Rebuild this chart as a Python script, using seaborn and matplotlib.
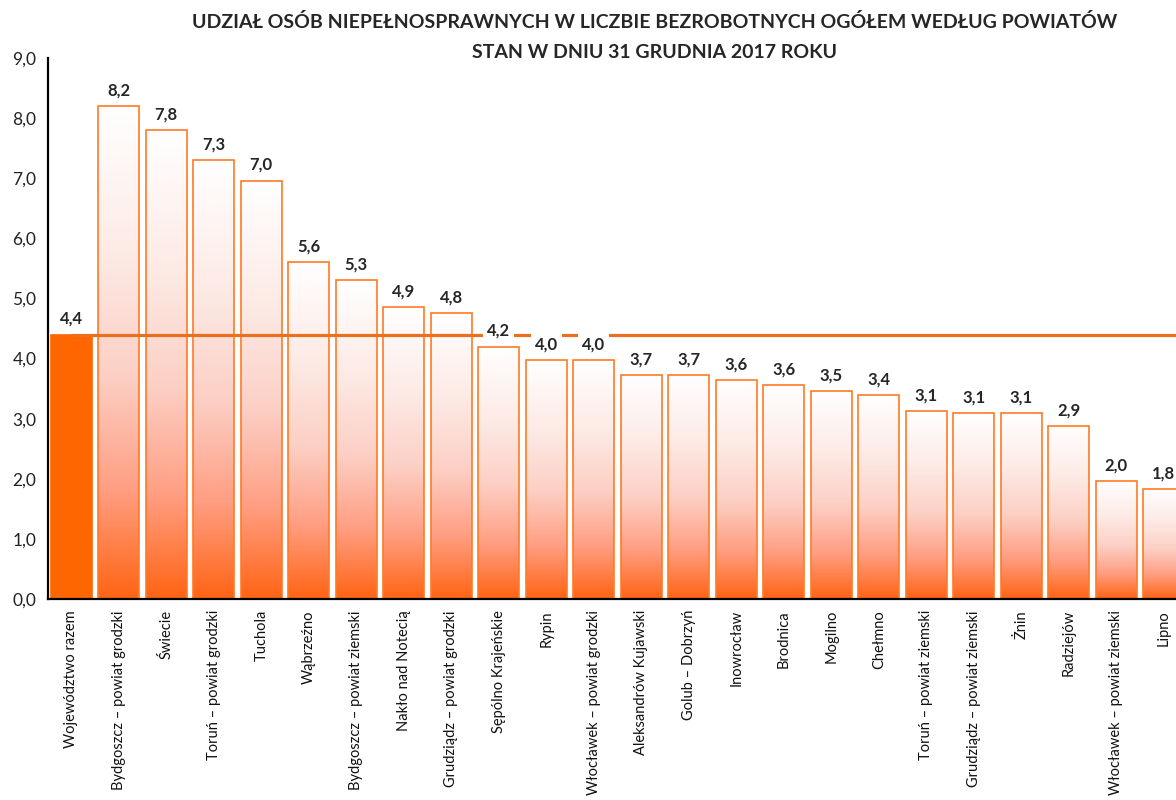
import numpy as np
import matplotlib.pyplot as plt
import seaborn as sns
from matplotlib.colors import LinearSegmentedColormap

# udział osób niepełnosprawnych w liczbie bezrobotnych (%), stan 31.12.2017
powiaty = [
    "Województwo razem", "Bydgoszcz – powiat grodzki", "Świecie",
    "Toruń – powiat grodzki", "Tuchola", "Wąbrzeźno",
    "Bydgoszcz – powiat ziemski", "Nakło nad Notecią", "Grudziądz – powiat grodzki",
    "Sępólno Krajeńskie", "Rypin", "Włocławek – powiat grodzki",
    "Aleksandrów Kujawski", "Golub – Dobrzyń", "Inowrocław", "Brodnica",
    "Mogilno", "Chełmno", "Toruń – powiat ziemski", "Grudziądz – powiat ziemski",
    "Żnin", "Radziejów", "Włocławek – powiat ziemski", "Lipno",
]
udzial = [4.4, 8.2, 7.8, 7.3, 6.96, 5.61, 5.3, 4.86, 4.76, 4.2, 3.98, 3.98,
          3.72, 3.72, 3.64, 3.56, 3.46, 3.39, 3.12, 3.1, 3.1, 2.88, 1.96, 1.83]
y_ticks = [0, 1, 2, 3, 4, 5, 6, 7, 8, 9]
y_labels = ["0,0", "1,0", "2,0", "3,0", "4,0", "5,0", "6,0", "7,0", "8,0", "9,0"]

orange = "#FF6600"
edge = "#FF7A26"
line_col = "#E8701E"

sns.set_style("white")
plt.rcParams["font.family"] = ["Lato", "DejaVu Sans"]

fig = plt.figure(figsize=(11.76, 8), dpi=100)
ax = fig.add_axes([47.5 / 1176, 201 / 800, 1140 / 1176, 541 / 800])

sns.barplot(x=powiaty, y=udzial, ax=ax, width=0.86, color="white",
            edgecolor=edge, linewidth=1.2, saturation=1)

cmap = LinearSegmentedColormap.from_list(
    "grad", [(0, "#FFFFFF"), (0.3, "#FDEAE5"), (0.55, "#FCCFC4"),
             (0.78, "#FF9E82"), (1, "#FF6414")])
grad = np.linspace(0, 1, 256)[:, None]

for i, p in enumerate(ax.patches):
    p.set_zorder(2)
    if i == 0:
        p.set_facecolor(orange)
        p.set_edgecolor(orange)
        continue
    p.set_facecolor("none")
    x0, w, h = p.get_x(), p.get_width(), p.get_height()
    im = ax.imshow(grad, extent=[x0, x0 + w, 0, h], aspect="auto", cmap=cmap,
                   vmin=0, vmax=1, zorder=1.5)
    im.set_clip_path(p)

# linia średniej dla województwa
ax.hlines(udzial[0], 0, len(powiaty), color=line_col, linewidth=2.3, zorder=3)

for i, v in enumerate(udzial):
    ax.annotate(f"{v:.1f}".replace(".", ","), (i, v), xytext=(0, 5.5),
                textcoords="offset points", ha="center", va="bottom",
                fontsize=12, fontweight="bold", zorder=5,
                bbox=dict(facecolor="white", edgecolor="none", pad=3))

ax.set_xlim(-0.5, len(powiaty) - 0.5)
ax.set_ylim(0, 9)
ax.set_yticks(y_ticks)
ax.set_yticklabels(y_labels, fontsize=12.5, color="#222222")
ax.set_xticks(range(len(powiaty)))
ax.set_xticklabels(powiaty, rotation=90, fontsize=10.5, color="#111111")
ax.set_xticks(np.arange(0.5, len(powiaty), 1), minor=True)
ax.tick_params(axis="x", which="major", length=0, pad=8)
ax.tick_params(axis="x", which="minor", length=7, direction="inout", width=1)
ax.tick_params(axis="y", length=8, direction="inout", width=1, pad=4)
ax.set_xlabel("")

for s in ["top", "right"]:
    ax.spines[s].set_visible(False)
for s in ["left", "bottom"]:
    ax.spines[s].set_color("black")
    ax.spines[s].set_linewidth(1.6)
    ax.spines[s].set_zorder(4)

fig.text(655 / 1176, 1 - 22 / 800,
         "UDZIAŁ OSÓB NIEPEŁNOSPRAWNYCH W LICZBIE BEZROBOTNYCH OGÓŁEM WEDŁUG POWIATÓW",
         ha="center", va="center", fontsize=14, fontweight="bold")
fig.text(655 / 1176, 1 - 52 / 800, "STAN W DNIU 31 GRUDNIA 2017 ROKU",
         ha="center", va="center", fontsize=14, fontweight="bold")

fig.savefig("out.png", dpi=100)
